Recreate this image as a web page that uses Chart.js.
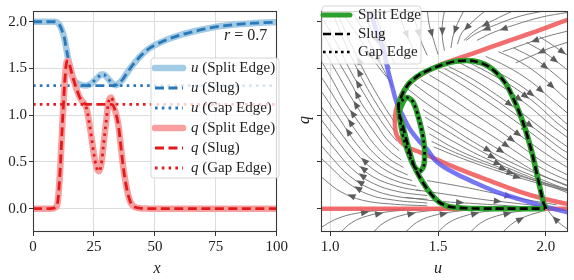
<!DOCTYPE html>
<html><head><meta charset="utf-8">
<script src="https://cdn.jsdelivr.net/npm/chart.js@4"></script>
<style>
html,body{margin:0;padding:0;background:#fff;}
#wrap{position:relative;width:574px;height:280px;overflow:hidden;}
#c1{position:absolute;left:0;top:0;width:290px;height:280px;}
#c2{position:absolute;left:290px;top:0;width:284px;height:280px;}
</style></head><body>
<div id="wrap"><canvas id="c1" width="290" height="280"></canvas><canvas id="c2" width="284" height="280"></canvas></div>
<script>
// ---------------- DATA ----------------
const xs = [0,2,4,6,8,9,10,11,11.5,12,12.5,13,13.5,14,14.5,15,16,17,18,19,20,21,22,23,24,25,26,27,28,29,30,31,32,33,34,35,36,37,38,39,40,41,42,44,46,48,50,55,60,65,70,75,80,85,90,95,100];

const uSlug = [2.0,2.0,2.0,2.0,2.0,2.0,
  1.99,1.96,1.935,1.90,1.86,1.81,1.735,1.665,1.59,1.52,1.42,1.37,1.345,1.33,1.323,1.318,
  1.316,1.316,1.316,1.316,1.316,1.316,1.316,1.316,1.316,1.316,1.316,1.316,
  1.32,1.335,1.36,1.39,1.43,1.47,1.505,1.54,1.57,1.63,1.68,1.72,1.75,1.81,1.855,1.89,1.92,1.945,1.962,1.975,1.985,1.991,1.995];
const uSplit = [2.0,2.0,2.0,2.0,2.0,2.0,
  1.99,1.96,1.935,1.90,1.86,1.81,1.735,1.665,1.59,1.52,1.42,1.37,1.345,1.33,1.323,1.318,
  1.318,1.325,1.34,1.365,1.39,1.415,1.435,1.435,1.415,1.385,1.355,1.33,
  1.32,1.335,1.36,1.39,1.43,1.47,1.505,1.54,1.57,1.63,1.68,1.72,1.75,1.81,1.855,1.89,1.92,1.945,1.962,1.975,1.985,1.991,1.995];
const uGap = [1.316,1.316,1.316,1.316,1.316,1.316,
  1.316,1.316,1.316,1.316,1.316,1.316,1.316,1.316,1.316,1.316,1.316,1.316,1.316,1.316,1.316,1.316,
  1.318,1.325,1.34,1.365,1.39,1.415,1.435,1.435,1.415,1.385,1.355,1.33,
  1.32,1.316,1.316,1.316,1.316,1.316,1.316,1.316,1.316,1.316,1.316,1.316,1.316,1.316,1.316,1.316,1.316,1.316,1.316,1.316,1.316,1.316,1.316];

const qSlug = [0,0,0,0,0.002,0.01,
  0.05,0.35,0.6,0.88,1.12,1.35,1.52,1.58,1.58,1.54,1.44,1.35,1.27,1.20,1.155,1.125,
  1.116,1.115,1.115,1.115,1.115,1.115,1.115,1.115,1.115,1.115,1.115,1.10,
  1.02,0.90,0.68,0.45,0.28,0.15,0.07,0.03,0.015,0.004,0.001,0,0,0,0,0,0,0,0,0,0,0,0];
const qSplit = [0,0,0,0,0.002,0.01,
  0.05,0.35,0.6,0.88,1.12,1.35,1.52,1.58,1.58,1.54,1.44,1.35,1.27,1.20,1.155,1.125,
  1.07,0.93,0.76,0.58,0.45,0.40,0.47,0.70,0.93,1.14,1.19,1.10,
  1.02,0.90,0.68,0.45,0.28,0.15,0.07,0.03,0.015,0.004,0.001,0,0,0,0,0,0,0,0,0,0,0,0];
const qGap = [1.115,1.115,1.115,1.115,1.115,1.115,
  1.115,1.115,1.115,1.115,1.115,1.115,1.115,1.115,1.115,1.115,1.115,1.115,1.115,1.115,1.115,1.115,
  1.07,0.93,0.76,0.58,0.45,0.40,0.47,0.70,0.93,1.14,1.19,1.15,
  1.125,1.115,1.115,1.115,1.115,1.115,1.115,1.115,1.115,1.115,1.115,1.115,1.115,1.115,1.115,1.115,1.115,1.115,1.115,1.115,1.115,1.115,1.115];

// nullcline-like curves in the (u, q) plane
const redU = [2.15,2.10,1.97,1.82,1.66,1.51,1.42,1.36,1.325,1.305,1.30,1.31,1.35,1.42,1.50,1.57,1.725,1.88,2.00,2.10,2.15];
const redQ = [2.05,2.02,1.91,1.79,1.66,1.54,1.43,1.32,1.19,1.05,0.92,0.78,0.67,0.60,0.52,0.45,0.31,0.18,0.10,0.05,0.03];
const redFlatU = [0.9,2.2];
const redFlatQ = [0,0];
const blueU = [1.18,1.19,1.215,1.247,1.262,1.293,1.31,1.34,1.37,1.41,1.448,1.494,1.57,1.65,1.77,1.88,2.00,2.10,2.15];
const blueQ = [2.20,2.10,1.90,1.715,1.54,1.26,1.125,0.98,0.85,0.73,0.64,0.50,0.39,0.30,0.18,0.10,0.02,-0.04,-0.07];

const streamLines = [
 [[1.36,1.28],[1.45,1.12],[1.58,0.92],[1.72,0.72],[1.86,0.52],[1.98,0.36],[2.10,0.24]],
 [[1.39,1.33],[1.48,1.18],[1.61,0.98],[1.75,0.78],[1.88,0.58],[1.99,0.42],[2.10,0.30]],
 [[1.42,1.38],[1.52,1.24],[1.65,1.04],[1.78,0.84],[1.90,0.64],[2.00,0.48],[2.10,0.36]],
 [[1.46,1.43],[1.56,1.29],[1.68,1.10],[1.81,0.90],[1.93,0.70],[2.03,0.54],[2.10,0.44]],
 [[1.50,1.48],[1.60,1.34],[1.72,1.16],[1.85,0.95],[1.96,0.76],[2.05,0.60],[2.10,0.52]],
 [[1.53,1.50],[1.63,1.37],[1.75,1.19],[1.87,0.99],[1.98,0.80],[2.07,0.64],[2.10,0.60]],
 [[1.55,1.52],[1.65,1.40],[1.77,1.22],[1.89,1.02],[1.99,0.84],[2.10,0.66]],
 [[1.60,1.56],[1.70,1.44],[1.82,1.27],[1.93,1.08],[2.02,0.90],[2.10,0.76]],
 [[1.63,1.58],[1.73,1.46],[1.85,1.30],[1.96,1.11],[2.04,0.94],[2.10,0.83]],
 [[1.66,1.60],[1.76,1.48],[1.88,1.32],[1.98,1.14],[2.06,0.98],[2.10,0.90]],
 [[1.72,1.63],[1.82,1.52],[1.93,1.36],[2.02,1.18],[2.10,1.02]],
 [[1.78,1.68],[1.88,1.57],[1.98,1.41],[2.07,1.22],[2.10,1.16]],
 [[1.85,1.72],[1.95,1.60],[2.04,1.44],[2.10,1.32]],
 [[1.91,1.78],[2.00,1.66],[2.08,1.52],[2.10,1.48]],
 [[1.97,1.84],[2.05,1.72],[2.10,1.64]],
 [[1.43,1.06],[1.54,0.90],[1.66,0.72],[1.80,0.54],[1.94,0.39],[2.10,0.25]],
 [[1.44,0.98],[1.55,0.82],[1.68,0.64],[1.82,0.47],[1.96,0.33],[2.10,0.20]],
 [[1.45,0.88],[1.57,0.72],[1.70,0.56],[1.85,0.41],[1.99,0.28],[2.10,0.19]],
 [[1.46,0.80],[1.58,0.64],[1.72,0.50],[1.88,0.36],[2.02,0.24],[2.10,0.17]],
 [[1.47,0.72],[1.60,0.58],[1.75,0.45],[1.92,0.32],[2.10,0.21]],
 [[1.48,0.66],[1.62,0.53],[1.78,0.40],[1.95,0.28],[2.10,0.19]],
 [[1.45,0.30],[1.60,0.24],[1.75,0.17],[1.90,0.10],[2.05,0.04]],
 [[1.40,0.20],[1.55,0.15],[1.70,0.10],[1.85,0.06],[2.00,0.02]],
 [[1.35,0.12],[1.50,0.08],[1.70,0.05],[1.90,0.02]],
 [[1.45,0.03],[1.28,0.05],[1.15,0.09],[1.05,0.18],[0.98,0.30],[0.95,0.36]],
 [[1.45,0.06],[1.30,0.09],[1.18,0.15],[1.08,0.28],[1.00,0.45],[0.95,0.56]],
 [[1.45,0.10],[1.31,0.13],[1.19,0.21],[1.09,0.35],[1.01,0.54],[0.95,0.70]],
 [[1.45,0.14],[1.32,0.18],[1.20,0.27],[1.10,0.43],[1.02,0.64],[0.95,0.84]],
 [[1.42,0.19],[1.31,0.24],[1.20,0.34],[1.11,0.51],[1.03,0.74],[0.95,0.98]],
 [[1.40,0.24],[1.30,0.30],[1.20,0.42],[1.12,0.60],[1.04,0.84],[0.95,1.12]],
 [[1.38,0.30],[1.29,0.37],[1.20,0.51],[1.12,0.70],[1.05,0.94],[0.97,1.22],[0.95,1.28]],
 [[1.36,0.36],[1.28,0.45],[1.20,0.60],[1.13,0.80],[1.06,1.04],[0.99,1.30],[0.95,1.44]],
 [[1.34,0.44],[1.27,0.54],[1.20,0.70],[1.14,0.90],[1.07,1.13],[1.01,1.38],[0.96,1.58]],
 [[1.33,0.52],[1.27,0.63],[1.21,0.80],[1.15,1.00],[1.09,1.22],[1.03,1.46],[0.97,1.70]],
 [[1.32,0.62],[1.26,0.75],[1.21,0.92],[1.15,1.11],[1.10,1.33],[1.04,1.57],[0.98,1.82],[0.95,1.95]],
 [[1.31,0.72],[1.26,0.86],[1.21,1.03],[1.16,1.22],[1.10,1.45],[1.05,1.68],[1.00,1.90],[0.96,2.05]],
 [[1.30,0.82],[1.26,0.96],[1.21,1.14],[1.16,1.34],[1.11,1.57],[1.06,1.82],[1.02,2.05],[1.01,2.12]],
 [[1.30,0.92],[1.26,1.06],[1.21,1.25],[1.16,1.46],[1.11,1.70],[1.06,1.95],[1.03,2.12]],
 [[1.05,2.12],[1.10,1.95],[1.16,1.74],[1.22,1.53],[1.28,1.36]],
 [[1.10,2.12],[1.15,1.92],[1.20,1.70],[1.25,1.48],[1.29,1.30]],
 [[1.15,2.12],[1.19,1.92],[1.24,1.70],[1.28,1.50]],
 [[1.20,2.12],[1.23,1.95],[1.26,1.75],[1.30,1.55]],
 [[1.32,2.12],[1.34,1.95],[1.37,1.78],[1.40,1.62]],
 [[1.38,2.12],[1.40,1.96],[1.42,1.80],[1.45,1.64]],
 [[1.45,2.12],[1.46,1.96],[1.48,1.80],[1.50,1.65]],
 [[1.53,2.12],[1.52,1.97],[1.52,1.83],[1.53,1.69]],
 [[1.62,2.12],[1.59,1.98],[1.57,1.85],[1.56,1.72]],
 [[1.72,2.12],[1.66,2.00],[1.61,1.88],[1.59,1.76]],
 [[1.85,2.12],[1.76,2.02],[1.68,1.92],[1.62,1.80]],
 [[2.00,2.12],[1.88,2.06],[1.77,1.97],[1.68,1.88],[1.63,1.80]],
 [[2.10,2.10],[1.98,2.05],[1.86,1.97],[1.75,1.88],[1.68,1.80]],
 [[2.10,1.90],[2.00,1.84],[1.90,1.76],[1.80,1.68]],
 [[2.10,1.78],[2.02,1.72],[1.94,1.64],[1.86,1.56]],
 [[0.96,-0.20],[1.02,-0.12],[1.10,-0.06],[1.22,-0.02],[1.35,-0.005]],
 [[1.05,-0.25],[1.10,-0.15],[1.17,-0.08],[1.28,-0.03],[1.42,-0.01]],
 [[1.20,-0.25],[1.25,-0.15],[1.32,-0.08],[1.43,-0.03],[1.56,-0.01]],
 [[1.35,-0.25],[1.40,-0.15],[1.47,-0.08],[1.58,-0.03],[1.70,-0.01]],
 [[1.50,-0.25],[1.55,-0.15],[1.62,-0.08],[1.72,-0.03],[1.84,-0.01]],
 [[1.65,-0.25],[1.70,-0.15],[1.77,-0.08],[1.87,-0.03],[1.97,-0.01]],
 [[1.80,-0.25],[1.85,-0.15],[1.91,-0.08],[1.98,-0.03]],
 [[2.10,-0.22],[2.06,-0.15],[2.03,-0.08],[2.01,-0.02]]
];

const xTicks = [0,25,50,75,100];
const qTicks = [0,0.5,1.0,1.5,2.0];
const uTicks = [1.0,1.5,2.0];

// ---------------- STYLE / HELPERS ----------------
const FONT = "'Liberation Serif','DejaVu Serif',serif";
const C = {
  uLight:'#a3cbe5', uDark:'#2a78b8', qLight:'#f8a0a0', qDark:'#e31a1c',
  green:'#2ca02c', red:'rgba(240,85,85,0.85)', blue:'rgba(85,85,240,0.8)', grid:'#dcdcdc', stream:'#6e6e6e'
};
const DASH=[9,4.5], DOT=[2.6,4.2];
const pts = (a,b)=>a.map((v,i)=>({x:v,y:b[i]}));

function drawFrame(chart){
  const a=chart.chartArea, c=chart.ctx;
  c.save(); c.strokeStyle='#3a3a3a'; c.lineWidth=1.1;
  c.strokeRect(Math.round(a.left)+0.5,Math.round(a.top)+0.5,Math.round(a.right-a.left)-1,Math.round(a.bottom-a.top)-1);
  c.restore();
}
function roundRect(c,x,y,w,h,r){
  c.beginPath(); c.moveTo(x+r,y); c.lineTo(x+w-r,y); c.quadraticCurveTo(x+w,y,x+w,y+r);
  c.lineTo(x+w,y+h-r); c.quadraticCurveTo(x+w,y+h,x+w-r,y+h); c.lineTo(x+r,y+h);
  c.quadraticCurveTo(x,y+h,x,y+h-r); c.lineTo(x,y+r); c.quadraticCurveTo(x,y,x+r,y); c.closePath();
}
function drawLegend(c, box, items, hx0, hx1, tx, rows, size){
  c.save();
  roundRect(c, box[0], box[1], box[2], box[3], 3);
  c.fillStyle='rgba(255,255,255,0.8)'; c.fill();
  c.strokeStyle='rgba(204,204,204,0.8)'; c.lineWidth=1; c.stroke();
  items.forEach((it,i)=>{
    const y=rows[i];
    c.beginPath(); c.strokeStyle=it.color; c.lineWidth=it.width; c.setLineDash(it.dash||[]);
    c.lineCap=it.cap||'butt'; c.moveTo(hx0,y); c.lineTo(hx1,y); c.stroke(); c.setLineDash([]);
    c.fillStyle='#222'; c.textBaseline='middle'; c.textAlign='left';
    let x=tx;
    if(it.sym){ c.font='italic '+size+'px '+FONT; c.fillText(it.sym,x,y); x+=c.measureText(it.sym).width; }
    c.font=size+'px '+FONT; c.fillText(it.rest,x,y);
  });
  c.restore();
}
function scaleCommon(min,max,ticks,fmt,w,h){
  const s={type:'linear',min,max,
    afterBuildTicks:sc=>{sc.ticks=ticks.map(v=>({value:v}));},
    ticks:{font:{family:FONT,size:15},color:'#222',padding:2,maxRotation:0,autoSkip:false,callback:fmt},
    grid:{color:C.grid,lineWidth:1,drawTicks:true,tickLength:4,tickColor:'#333'},
    border:{display:false}};
  if(w!==undefined) s.afterFit=sc=>{sc.width=w;};
  if(h!==undefined) s.afterFit=sc=>{sc.height=h;};
  return s;
}

// ---------------- LEFT CHART ----------------
const lineDS=(label,ys,color,width,dash,order,cap)=>({label,data:pts(xs,ys),showLine:true,borderColor:color,borderWidth:width,
  borderDash:dash||[],borderCapStyle:cap||'butt',pointRadius:0,cubicInterpolationMode:'monotone',order,clip:0,fill:false});

const leftItems=[
  {sym:'u',rest:' (Split Edge)',color:C.uLight,width:6.5,cap:'round'},
  {sym:'u',rest:' (Slug)',color:C.uDark,width:2.8,dash:DASH},
  {sym:'u',rest:' (Gap Edge)',color:C.uDark,width:2.8,dash:DOT},
  {sym:'q',rest:' (Split Edge)',color:C.qLight,width:6.5,cap:'round'},
  {sym:'q',rest:' (Slug)',color:C.qDark,width:2.8,dash:DASH},
  {sym:'q',rest:' (Gap Edge)',color:C.qDark,width:2.8,dash:DOT}
];

new Chart(document.getElementById('c1'),{
  type:'scatter',
  data:{datasets:[
    lineDS('u (Split Edge)',uSplit,C.uLight,6.5,null,6,'round'),
    lineDS('u (Slug)',uSlug,C.uDark,2.8,DASH,5),
    lineDS('u (Gap Edge)',uGap,C.uDark,2.8,DOT,4),
    lineDS('q (Split Edge)',qSplit,C.qLight,6.5,null,3,'round'),
    lineDS('q (Slug)',qSlug,C.qDark,2.8,DASH,2),
    lineDS('q (Gap Edge)',qGap,C.qDark,2.8,DOT,1)
  ]},
  options:{
    responsive:false,maintainAspectRatio:false,animation:false,events:[],
    layout:{padding:{top:5,right:10,left:0,bottom:0}},
    plugins:{legend:{display:false},tooltip:{enabled:false}},
    scales:{
      x:scaleCommon(0,100,xTicks,v=>String(v),undefined,48),
      y:scaleCommon(-0.25,2.115,qTicks,v=>Number(v).toFixed(1),33,undefined)
    }
  },
  plugins:[{id:'leftDeco',afterDraw(chart){
    const c=chart.ctx;
    drawFrame(chart);
    c.save();
    c.fillStyle='#222'; c.textBaseline='middle'; c.textAlign='left';
    c.font='italic 16px '+FONT; c.fillText('r',224,36);
    const rw=c.measureText('r').width;
    c.font='16px '+FONT; c.fillText(' = 0.7',224+rw,36);
    c.textAlign='center'; c.font='italic 16px '+FONT; c.fillText('x',157,269);
    c.restore();
    drawLegend(c,[151,58,128,120],leftItems,155,183,191,[68,88,108,128,148,168],15);
  }}]
});

// ---------------- RIGHT CHART ----------------
const streamDS = streamLines.map((ln,i)=>({label:'stream'+i,isStream:true,data:ln.map(p=>({x:p[0],y:p[1]})),showLine:true,
  borderColor:C.stream,borderWidth:0.9,pointRadius:0,tension:0.4,order:100,clip:0,fill:false}));
const phaseDS=(label,u,q,color,width,dash,order,tension)=>({label,data:pts(u,q),showLine:true,borderColor:color,borderWidth:width,
  borderDash:dash||[],pointRadius:0,tension:tension,order,clip:0,fill:false,borderJoinStyle:'round'});

const rightItems=[
  {sym:'',rest:'Split Edge',color:C.green,width:5,cap:'round'},
  {sym:'',rest:'Slug',color:'#000',width:2.6,dash:[8,4]},
  {sym:'',rest:'Gap Edge',color:'#000',width:2.6,dash:[2.6,3.4]}
];

new Chart(document.getElementById('c2'),{
  type:'scatter',
  data:{datasets:[
    ...streamDS,
    phaseDS('q0',redFlatU,redFlatQ,C.red,4.5,null,50,0),
    phaseDS('red',redU,redQ,C.red,4.5,null,49,0.4),
    phaseDS('blue',blueU,blueQ,C.blue,4.5,null,48,0.4),
    phaseDS('Split Edge',uSplit,qSplit,C.green,5.5,null,10,0.3),
    phaseDS('Slug',uSlug,qSlug,'#000',2.6,[8,4],9,0.3),
    phaseDS('Gap Edge',uGap,qGap,'#000',2.6,[2.6,3.4],8,0.3)
  ]},
  options:{
    responsive:false,maintainAspectRatio:false,animation:false,events:[],
    layout:{padding:{top:5,right:6,left:0,bottom:0}},
    plugins:{legend:{display:false},tooltip:{enabled:false}},
    scales:{
      x:scaleCommon(0.958,2.102,uTicks,v=>Number(v).toFixed(1),undefined,48),
      y:scaleCommon(-0.25,2.115,qTicks,()=>'',31,undefined)
    }
  },
  plugins:[{id:'rightDeco',
    afterDatasetDraw(chart,args){
      const ds=chart.data.datasets[args.index];
      if(!ds.isStream) return;
      const el=args.meta.data; if(el.length<2) return;
      const k=Math.floor((el.length-1)/2);
      const p0=el[k],p1=el[k+1];
      const mx=(p0.x+p1.x)/2,my=(p0.y+p1.y)/2,ang=Math.atan2(p1.y-p0.y,p1.x-p0.x);
      const a=chart.chartArea,c=chart.ctx;
      c.save(); c.beginPath(); c.rect(a.left,a.top,a.right-a.left,a.bottom-a.top); c.clip();
      c.translate(mx,my); c.rotate(ang);
      c.beginPath(); c.moveTo(4.5,0); c.lineTo(-3.5,3.3); c.lineTo(-3.5,-3.3); c.closePath();
      c.fillStyle='#5c5c5c'; c.fill(); c.restore();
    },
    afterDraw(chart){
      const c=chart.ctx;
      drawFrame(chart);
      c.save(); c.fillStyle='#222';
      c.textAlign='center'; c.textBaseline='middle'; c.font='italic 16px '+FONT;
      c.fillText('u',148,269);
      c.translate(15,120); c.rotate(-Math.PI/2); c.fillText('q',0,0);
      c.restore();
      drawLegend(c,[32,6,99,58],rightItems,33,60,68,[15,34,52],15);
    }
  }]
});
</script></body></html>
